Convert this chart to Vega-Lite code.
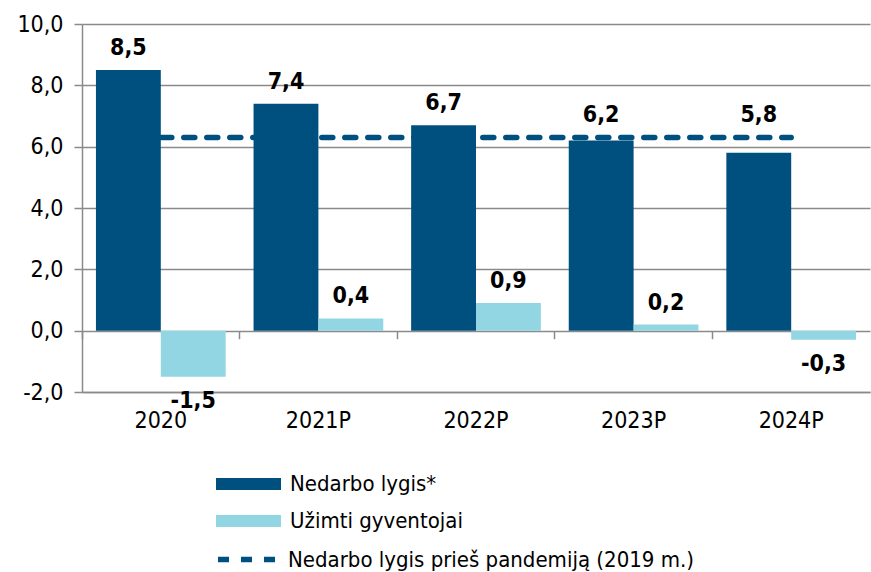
{
  "$schema": "https://vega.github.io/schema/vega-lite/v6.json",
  "width": 788,
  "height": 368,
  "autosize": {"type": "none"},
  "padding": {"left": 82, "top": 24, "right": 1, "bottom": 180},
  "background": "white",
  "config": {
    "font": "DejaVu Sans Condensed, DejaVu Sans",
    "view": {"stroke": null}
  },
  "data": {
    "values": [
      {"year": "2020", "series": "Nedarbo lygis*", "value": 8.5},
      {"year": "2020", "series": "Užimti gyventojai", "value": -1.5},
      {"year": "2021P", "series": "Nedarbo lygis*", "value": 7.4},
      {"year": "2021P", "series": "Užimti gyventojai", "value": 0.4},
      {"year": "2022P", "series": "Nedarbo lygis*", "value": 6.7},
      {"year": "2022P", "series": "Užimti gyventojai", "value": 0.9},
      {"year": "2023P", "series": "Nedarbo lygis*", "value": 6.2},
      {"year": "2023P", "series": "Užimti gyventojai", "value": 0.2},
      {"year": "2024P", "series": "Nedarbo lygis*", "value": 5.8},
      {"year": "2024P", "series": "Užimti gyventojai", "value": -0.3}
    ]
  },
  "transform": [
    {"calculate": "replace(replace(format(datum.value, '.1f'), '.', ','), '\u2212', '-')", "as": "label"},
    {"calculate": "datum.series == 'Nedarbo lygis*' ? max(datum.value, 6.3) : datum.value", "as": "labelAt"}
  ],
  "layer": [
    {
      "mark": {"type": "bar"},
      "encoding": {
        "x": {
          "field": "year", "type": "nominal", "sort": null,
          "scale": {"paddingInner": 0, "paddingOuter": 0},
          "axis": {
            "orient": "bottom", "title": null, "labelAngle": 0, "ticks": false,
            "domainColor": "#8a8a8a", "domainWidth": 1.5,
            "labelFontSize": 23, "labelColor": "#000", "labelPadding": 17
          }
        },
        "xOffset": {
          "field": "series", "type": "nominal",
          "scale": {"paddingInner": 0, "paddingOuter": 0.215}
        },
        "y": {
          "field": "value", "type": "quantitative",
          "scale": {"domain": [-2, 10], "nice": false, "zero": false},
          "axis": {
            "title": null, "values": [-2, 0, 2, 4, 6, 8, 10],
            "labelExpr": "replace(replace(format(datum.value, '.1f'), '.', ','), '\u2212', '-')",
            "labelFontSize": 23, "labelColor": "#000", "labelPadding": 11,
            "domainColor": "#8a8a8a", "domainWidth": 1.5,
            "tickColor": "#8a8a8a", "tickWidth": 1.5, "tickSize": 8,
            "grid": true, "gridColor": "#8a8a8a", "gridWidth": 1.5
          }
        },
        "color": {
          "field": "series", "type": "nominal",
          "scale": {"domain": ["Nedarbo lygis*", "Užimti gyventojai"], "range": ["#00507f", "#92d5e3"]},
          "legend": {
            "title": null, "orient": "none", "legendX": 155.5, "legendY": 449,
            "direction": "vertical",
            "symbolType": "M-3.25,-0.6H3.25V0.6H-3.25Z", "symbolSize": 400,
            "symbolStrokeWidth": 0, "labelLimit": 600,
            "labelFontSize": 22, "labelColor": "#000", "labelOffset": 30.5,
            "rowPadding": 15
          }
        }
      }
    },
    {
      "transform": [{"filter": "datum.value >= 0"}],
      "mark": {"type": "text", "baseline": "alphabetic", "dy": -15, "fontSize": 23, "fontWeight": "bold", "color": "#000"},
      "encoding": {
        "x": {"field": "year", "type": "nominal", "sort": null, "axis": null},
        "xOffset": {"field": "series", "type": "nominal"},
        "y": {"field": "labelAt", "type": "quantitative"},
        "text": {"field": "label"}
      }
    },
    {
      "transform": [{"filter": "datum.value < 0"}],
      "mark": {"type": "text", "baseline": "top", "dy": 13, "fontSize": 23, "fontWeight": "bold", "color": "#000"},
      "encoding": {
        "x": {"field": "year", "type": "nominal", "sort": null, "axis": null},
        "xOffset": {"field": "series", "type": "nominal"},
        "y": {"field": "value", "type": "quantitative"},
        "text": {"field": "label"}
      }
    },
    {
      "data": {
        "values": [
          {"year": "2020", "series": "Nedarbo lygis prieš pandemiją (2019 m.)", "value": 6.3},
          {"year": "2021P", "series": "Nedarbo lygis prieš pandemiją (2019 m.)", "value": 6.3},
          {"year": "2022P", "series": "Nedarbo lygis prieš pandemiją (2019 m.)", "value": 6.3},
          {"year": "2023P", "series": "Nedarbo lygis prieš pandemiją (2019 m.)", "value": 6.3},
          {"year": "2024P", "series": "Nedarbo lygis prieš pandemiją (2019 m.)", "value": 6.3}
        ]
      },
      "mark": {"type": "line", "color": "#00507f", "strokeWidth": 5.5, "strokeCap": "round"},
      "encoding": {
        "x": {
          "field": "year", "type": "nominal", "sort": null,
          "axis": {
            "orient": "bottom", "offset": -61.3, "labels": false, "domain": false,
            "ticks": true, "bandPosition": 0, "tickSize": 8, "tickColor": "#8a8a8a", "tickWidth": 1.5,
            "title": null, "grid": false
          }
        },
        "y": {"field": "value", "type": "quantitative"},
        "strokeDash": {
          "field": "series", "type": "nominal",
          "scale": {"range": [[11, 12]]},
          "legend": {
            "title": null, "orient": "none", "legendX": 133, "legendY": 500,
            "symbolType": "stroke", "symbolSize": 4225, "symbolStrokeWidth": 5.5,
            "symbolStrokeColor": "#00507f", "symbolDash": [13, 10], "labelLimit": 600,
            "labelFontSize": 22, "labelColor": "#000", "labelOffset": 2
          }
        }
      }
    }
  ],
  "resolve": {"axis": {"x": "independent"}}
}
